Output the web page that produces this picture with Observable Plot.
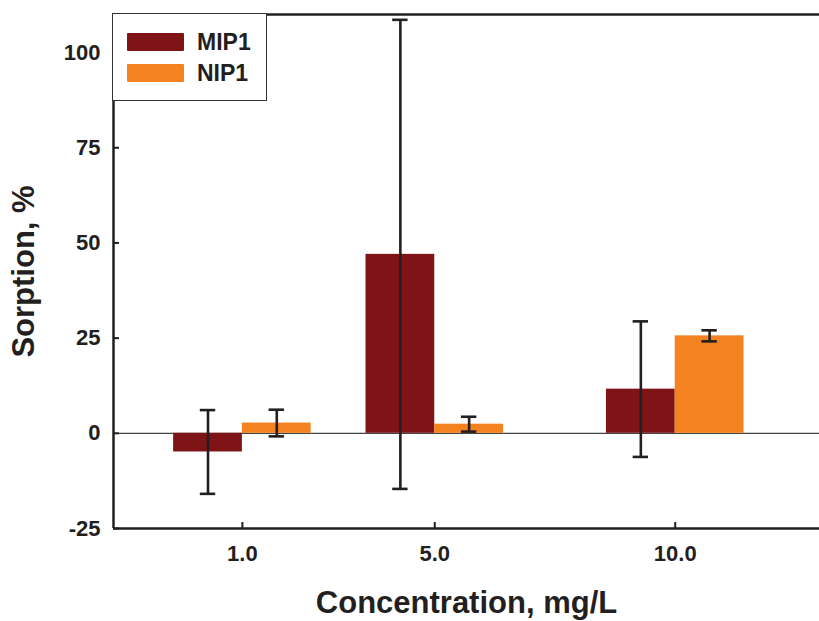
<!DOCTYPE html>
<html>
<head>
<meta charset="utf-8">
<script src="https://cdn.jsdelivr.net/npm/d3@7"></script>
<script src="https://cdn.jsdelivr.net/npm/@observablehq/plot@0.6"></script>
<style>
  html, body { margin: 0; padding: 0; background: #fff; }
  #wrap { position: relative; width: 819px; height: 621px; font-family: "Liberation Sans", Arial, sans-serif; }
  #legend { position: absolute; left: 112px; top: 13px; width: 155px; height: 88px; border: 1.5px solid #333; box-sizing: border-box; background: #fff; }
  .item { position: absolute; left: 14px; height: 20px; display: flex; align-items: center; font-weight: bold; font-size: 23px; color: #231f20; line-height: 20px; }
  .sw { width: 57px; height: 18px; margin-right: 13px; border-radius: 1px; }
</style>
</head>
<body>
<div id="wrap"></div>
<script>
const concentrations = [1.0, 5.0, 10.0];
const seriesNames = ["MIP1", "NIP1"];
const mip1Values = [-4.9, 47.0, 11.6];
const mip1Errors = [11.0, 61.6, 17.8];
const nip1Values = [2.7, 2.4, 25.6];
const nip1Errors = [3.5, 1.95, 1.45];
const yTicks = [-25, 0, 25, 50, 75, 100];
const xTicks = [1.0, 5.0, 10.0];
const colors = ["#7f1416", "#f58220"];

const barW = 1.43;
const capW = 0.16;
const rows = [];
concentrations.forEach((c, i) => {
  rows.push({series: "MIP1", c, v: mip1Values[i], e: mip1Errors[i], x1: c - barW, x2: c, xm: c - barW / 2});
  rows.push({series: "NIP1", c, v: nip1Values[i], e: nip1Errors[i], x1: c, x2: c + barW, xm: c + barW / 2});
});

const ink = "#231f20";
const chart = Plot.plot({
  width: 819,
  height: 621,
  marginLeft: 113,
  marginRight: 0,
  marginTop: 14,
  marginBottom: 93,
  style: {fontFamily: "Liberation Sans, Arial, sans-serif", color: ink, background: "#fff"},
  x: {domain: [-1.68, 13.0]},
  y: {domain: [-25, 110]},
  color: {domain: seriesNames, range: colors},
  marks: [
    Plot.ruleY([0], {stroke: "#444", strokeWidth: 1.2}),
    Plot.rectY(rows, {x1: "x1", x2: "x2", y1: 0, y2: "v", fill: "series"}),
    Plot.ruleX(rows, {x: "xm", y1: d => d.v - d.e, y2: d => d.v + d.e, stroke: ink, strokeWidth: 2.6}),
    Plot.ruleY(rows, {y: d => d.v + d.e, x1: d => d.xm - capW, x2: d => d.xm + capW, stroke: ink, strokeWidth: 2.6}),
    Plot.ruleY(rows, {y: d => d.v - d.e, x1: d => d.xm - capW, x2: d => d.xm + capW, stroke: ink, strokeWidth: 2.6}),
    Plot.axisY({ticks: yTicks, tickSize: 0, tickPadding: 13, tickFormat: d => String(d), fontSize: 22, fontWeight: "bold", label: null}),
    Plot.axisY({ticks: yTicks, tickSize: -6, text: null, stroke: ink, strokeWidth: 2, label: null}),
    Plot.axisX({ticks: xTicks, tickSize: 0, tickPadding: 17, tickFormat: d3.format(".1f"), fontSize: 22, fontWeight: "bold", label: null}),
    Plot.axisX({ticks: xTicks, tickSize: -6, text: null, stroke: ink, strokeWidth: 2, label: null}),
    Plot.ruleX([-1.68], {stroke: ink, strokeWidth: 2.5}),
    Plot.ruleY([-25], {stroke: ink, strokeWidth: 2.5}),
    Plot.ruleY([110], {stroke: ink, strokeWidth: 2.5}),
    Plot.text(["Concentration, mg/L"], {frameAnchor: "bottom", dy: 75, textAnchor: "middle", lineAnchor: "middle", fontSize: 31, fontWeight: "bold", fill: ink}),
    Plot.text(["Sorption, %"], {frameAnchor: "left", dx: -89, rotate: -90, textAnchor: "middle", lineAnchor: "middle", fontSize: 31, fontWeight: "bold", fill: ink})
  ]
});

const wrap = document.getElementById("wrap");
wrap.appendChild(chart);
const legend = document.createElement("div");
legend.id = "legend";
seriesNames.forEach((name, i) => {
  const item = document.createElement("div");
  item.className = "item";
  item.style.top = (18 + i * 31) + "px";
  const sw = document.createElement("span");
  sw.className = "sw";
  sw.style.background = colors[i];
  item.appendChild(sw);
  item.appendChild(document.createTextNode(name));
  legend.appendChild(item);
});
wrap.appendChild(legend);
</script>
</body>
</html>
